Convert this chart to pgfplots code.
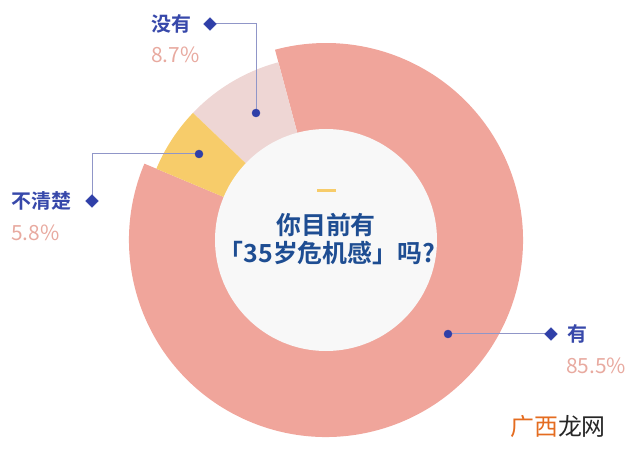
\documentclass[border=0pt]{standalone}
\usepackage{pgfplots}
\pgfplotsset{compat=1.18}
\usepackage{pgfplotstable}
\usepackage{fontspec}
\setmainfont{Noto Sans CJK SC}[BoldFont={* Bold}]
\definecolor{cYes}{RGB}{240,165,155}
\definecolor{cNo}{RGB}{238,214,212}
\definecolor{cUn}{RGB}{247,204,106}
\definecolor{cIn}{RGB}{248,248,248}
\definecolor{cTitle}{RGB}{30,77,146}
\definecolor{cLab}{RGB}{55,72,170}
\definecolor{cPct}{RGB}{232,170,160}
\definecolor{cLine}{RGB}{144,150,200}
\definecolor{cMark}{RGB}{47,63,168}
\definecolor{cOrange}{RGB}{228,108,32}

% share of answers (percent), outer radius of the wedge (px)
\pgfplotstableread{
value r
85.5 197
8.7 184
5.8 184
}\piedata

\begin{document}
\begin{tikzpicture}
\useasboundingbox (0,0) rectangle (640bp,453bp);
\pgfplotstablegetelem{0}{value}\of\piedata \let\vYes\pgfplotsretval
\pgfplotstablegetelem{1}{value}\of\piedata \let\vNo\pgfplotsretval
\pgfplotstablegetelem{2}{value}\of\piedata \let\vUn\pgfplotsretval
\pgfplotstablegetelem{0}{r}\of\piedata \let\rYes\pgfplotsretval
\pgfplotstablegetelem{1}{r}\of\piedata \let\rSmall\pgfplotsretval
\pgfmathsetmacro\sNo{105}
\pgfmathsetmacro\eNo{\sNo+3.6*\vNo}
\pgfmathsetmacro\eUn{\eNo+3.6*\vUn}
\pgfmathsetmacro\eYes{\eUn+3.6*\vYes}
\begin{axis}[
    at={(0,0)}, anchor=south west,
    x=1bp, y=1bp,
    xmin=0, xmax=640, ymin=0, ymax=453,
    hide axis, clip=false,
]
  % wedges
  \fill[cYes] (axis cs:326,213) -- ++(\eUn:\rYes bp)
      arc[start angle=\eUn, end angle=\eYes, radius=\rYes bp] -- cycle;
  \fill[cNo] (axis cs:326,213) -- ++(\sNo:\rSmall bp)
      arc[start angle=\sNo, end angle=\eNo, radius=\rSmall bp] -- cycle;
  \fill[cUn] (axis cs:326,213) -- ++(\eNo:\rSmall bp)
      arc[start angle=\eNo, end angle=\eUn, radius=\rSmall bp] -- cycle;
  \fill[cIn] (axis cs:326,213) circle[radius=111bp];

  % centre title
  \draw[cUn, line width=3bp] (axis cs:317,262) -- (axis cs:336,262);
  \node[text=cTitle, font=\fontsize{25}{25}\selectfont\bfseries, inner sep=0]
      at (axis cs:326,228) {你目前有};
  \node[text=cTitle, font=\fontsize{25}{25}\selectfont\bfseries, inner sep=0]
      at (axis cs:327,200) {「35岁危机感」吗?};

  % leader lines
  \addplot[cLine, line width=1bp] coordinates {(256,340) (256,429) (210,429)};
  \addplot[cLine, line width=1bp] coordinates {(199,299) (92,299) (92,252)};
  \addplot[cLine, line width=1bp] coordinates {(448,119) (551,119)};
  \addplot[cMark, only marks, mark=*, mark size=4bp] coordinates {(256,340) (199,299) (448,119)};
  \addplot[cMark, only marks, mark=square*, mark size=4.5bp, mark options={rotate=45}]
      coordinates {(210,429) (92,252) (551,119)};

  % labels
  \node[anchor=west, inner sep=0, text=cLab, font=\fontsize{20}{20}\selectfont\bfseries] at (axis cs:151,429) {没有};
  \node[anchor=west, inner sep=0, text=cPct, font=\fontsize{21}{21}\selectfont] at (axis cs:151,398) {8.7\%};
  \node[anchor=west, inner sep=0, text=cLab, font=\fontsize{20}{20}\selectfont\bfseries] at (axis cs:11,252) {不清楚};
  \node[anchor=west, inner sep=0, text=cPct, font=\fontsize{21}{21}\selectfont] at (axis cs:11,220) {5.8\%};
  \node[anchor=west, inner sep=0, text=cLab, font=\fontsize{20}{20}\selectfont\bfseries] at (axis cs:567,119) {有};
  \node[anchor=west, inner sep=0, text=cPct, font=\fontsize{21}{21}\selectfont] at (axis cs:566,87) {85.5\%};

  % watermark
  \node[inner sep=0, font=\fontsize{24}{24}\selectfont] at (axis cs:558,26)
      {\textcolor{cOrange}{广西}\textcolor{black!85}{龙网}};
\end{axis}
\end{tikzpicture}
\end{document}
